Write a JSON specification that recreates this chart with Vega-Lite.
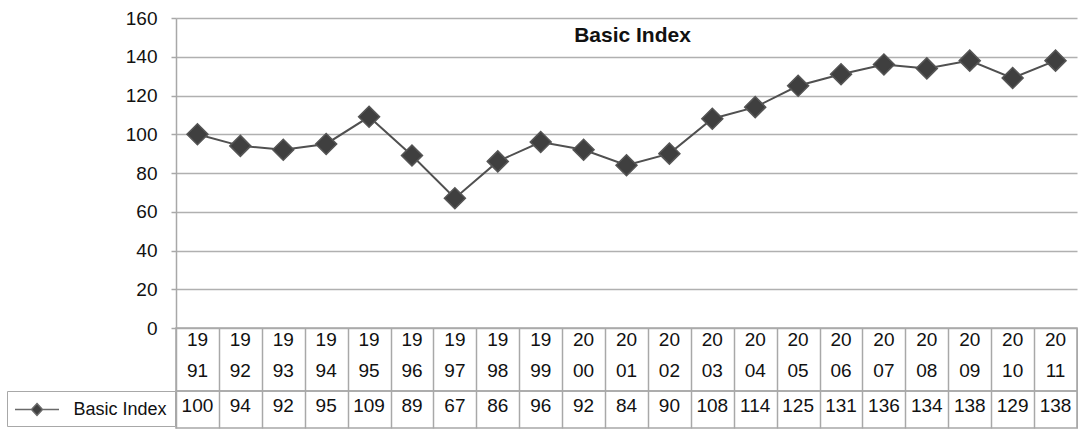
{
  "$schema": "https://vega.github.io/schema/vega-lite/v6.json",
  "padding": {"left": 6, "top": 9, "right": 0, "bottom": 0},
  "background": "white",
  "config": {
    "font": "Liberation Sans",
    "view": {"stroke": "#a8a8a8", "strokeWidth": 1.5},
    "axis": {"labelFont": "Liberation Sans", "labelColor": "#111111"}
  },
  "data": {
    "values": [
      {"year": "1991", "value": 100},
      {"year": "1992", "value": 94},
      {"year": "1993", "value": 92},
      {"year": "1994", "value": 95},
      {"year": "1995", "value": 109},
      {"year": "1996", "value": 89},
      {"year": "1997", "value": 67},
      {"year": "1998", "value": 86},
      {"year": "1999", "value": 96},
      {"year": "2000", "value": 92},
      {"year": "2001", "value": 84},
      {"year": "2002", "value": 90},
      {"year": "2003", "value": 108},
      {"year": "2004", "value": 114},
      {"year": "2005", "value": 125},
      {"year": "2006", "value": 131},
      {"year": "2007", "value": 136},
      {"year": "2008", "value": 134},
      {"year": "2009", "value": 138},
      {"year": "2010", "value": 129},
      {"year": "2011", "value": 138}
    ]
  },
  "spacing": 0,
  "bounds": "flush",
  "vconcat": [
    {
      "width": 901,
      "height": 310,
      "title": {
        "text": "Basic Index",
        "font": "Liberation Sans",
        "fontSize": 21,
        "fontWeight": "bold",
        "color": "#111111",
        "anchor": "middle",
        "offset": -37,
        "dx": 6
      },
      "view": {"stroke": null},
      "encoding": {
        "x": {
          "field": "year",
          "type": "ordinal",
          "scale": {"type": "point", "padding": 0.5},
          "axis": null
        },
        "y": {
          "field": "value",
          "type": "quantitative",
          "scale": {"domain": [0, 160], "nice": false},
          "axis": {
            "title": null,
            "values": [0, 20, 40, 60, 80, 100, 120, 140, 160],
            "grid": true,
            "gridColor": "#b0b0b0",
            "gridWidth": 1.5,
            "domainColor": "#a8a8a8",
            "domainWidth": 1.5,
            "tickColor": "#a8a8a8",
            "tickSize": 5,
            "tickWidth": 1.5,
            "labelFontSize": 19,
            "labelPadding": 14
          }
        }
      },
      "layer": [
        {"mark": {"type": "line", "stroke": "#505050", "strokeWidth": 2}},
        {
          "mark": {"type": "point", "shape": "diamond", "filled": true, "size": 460, "color": "#9a9a9a", "opacity": 0.45, "dx": 2, "dy": 3}
        },
        {
          "mark": {"type": "point", "shape": "diamond", "filled": true, "size": 440, "opacity": 1, "stroke": "#555555", "strokeWidth": 1.5},
          "encoding": {
            "color": {
              "datum": "Basic Index",
              "type": "nominal",
              "scale": {"range": ["#3f3f3f"]},
              "legend": {
                "title": null,
                "orient": "none",
                "legendX": -169,
                "legendY": 373,
                "padding": 7.5,
                "strokeColor": "#a8a8a8",
                "fillColor": "white",
                "labelFont": "Liberation Sans",
                "labelFontSize": 18,
                "labelColor": "#111111",
                "labelOffset": 25.5,
                "symbolOffset": 11.5,
                "symbolSize": 400,
                "symbolType": "M-2.2,0L-0.55,0M0.55,0L2.2,0M0,-0.6L0.55,0L0,0.6L-0.55,0Z",
                "symbolFillColor": "#404040",
                "symbolStrokeColor": "#6a6a6a",
                "symbolStrokeWidth": 1.5
              }
            }
          }
        }
      ]
    },
    {
      "width": 901,
      "height": 63,
      "transform": [
        {"calculate": "[substring(datum.year, 0, 2), substring(datum.year, 2, 4)]", "as": "yearLines"}
      ],
      "mark": {
        "type": "text",
        "font": "Liberation Sans",
        "fontSize": 19,
        "color": "#111111",
        "baseline": "middle",
        "lineHeight": 31,
        "dy": -19.5
      },
      "encoding": {
        "x": {
          "field": "year",
          "type": "ordinal",
          "scale": {"type": "band", "paddingInner": 0, "paddingOuter": 0},
          "axis": {
            "title": null,
            "labels": false,
            "ticks": false,
            "domain": false,
            "grid": true,
            "tickBand": "extent",
            "gridColor": "#a8a8a8",
            "gridWidth": 1.5
          }
        },
        "text": {"field": "yearLines"}
      }
    },
    {
      "width": 901,
      "height": 37,
      "mark": {
        "type": "text",
        "font": "Liberation Sans",
        "fontSize": 19,
        "color": "#111111",
        "baseline": "middle",
        "dy": -3.5
      },
      "encoding": {
        "x": {
          "field": "year",
          "type": "ordinal",
          "scale": {"type": "band", "paddingInner": 0, "paddingOuter": 0},
          "axis": {
            "title": null,
            "labels": false,
            "ticks": false,
            "domain": false,
            "grid": true,
            "tickBand": "extent",
            "gridColor": "#a8a8a8",
            "gridWidth": 1.5
          }
        },
        "text": {"field": "value", "type": "quantitative"}
      }
    }
  ]
}
